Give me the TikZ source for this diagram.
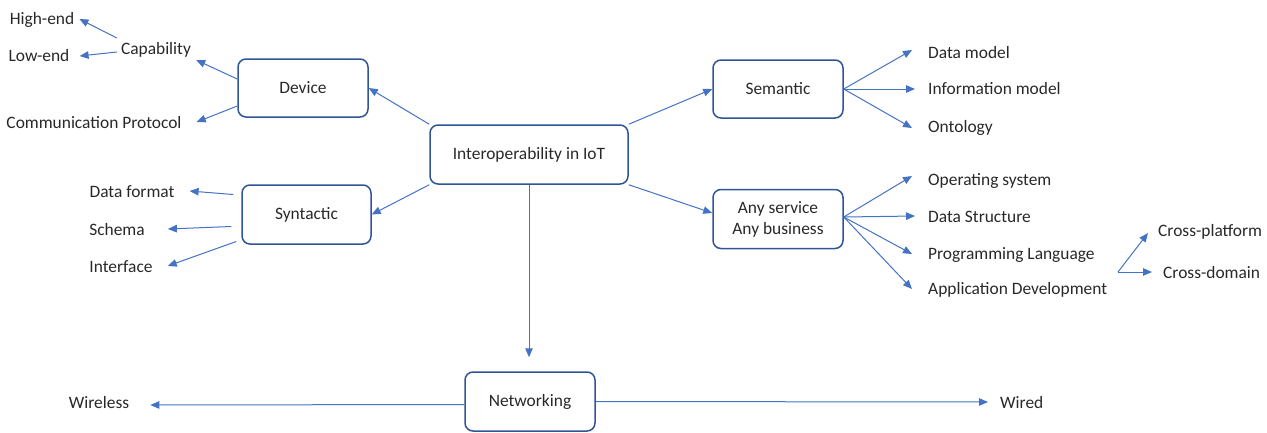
\documentclass[tikz,border=0pt]{standalone}
\usepackage{fontspec}
\setmainfont{Carlito}
\usetikzlibrary{arrows.meta,positioning,calc}

\definecolor{linkblue}{RGB}{68,114,196}
\definecolor{boxblue}{RGB}{47,85,151}
\definecolor{txtgray}{RGB}{40,40,40}

\begin{document}
\begin{tikzpicture}[x=1pt,y=-1pt,
    font=\fontsize{17.4}{21}\selectfont, text=txtgray,
    topic/.style={draw=boxblue, line width=1.5pt, rounded corners=8pt,
        minimum width=130pt, minimum height=58pt, align=center},
    leaf/.style={inner sep=0pt},
    link/.style={draw=linkblue, line width=1pt, -{Triangle[length=9pt,width=7.5pt]}}]
    \useasboundingbox (0,0) rectangle (1267,432);

    % Main boxes
    \node[topic, minimum width=198pt, minimum height=59pt] (interop) at (529,154.5) {Interoperability in IoT};
    \node[topic] (device) at (303,88) {Device};
    \node[topic, minimum width=129pt, minimum height=59pt] (syntactic) at (306.5,214.5) {Syntactic};
    \node[topic] (semantic) at (778,89) {Semantic};
    \node[topic, minimum height=59pt] (anyserv) at (778,219) {Any service\\Any business};
    \node[topic, minimum height=59pt] (networking) at (530,401.5) {Networking};

    % Left leaves
    \node[leaf] (highend) at (42,20) {High-end};
    \node[leaf] (lowend) at (39,56) {Low-end};
    \node[leaf] (capability) at (156,50) {Capability};
    \node[leaf] (commprot) at (94,123) {Communication Protocol};
    \node[leaf] (dataformat) at (132,192) {Data format};
    \node[leaf] (schema) at (117,230) {Schema};
    \node[leaf] (interface) at (121,267) {Interface};

    % Right leaves
    \node[leaf, anchor=west] (datamodel) at (928,53) {Data model};
    \node[leaf, anchor=west] (infomodel) at (928,89) {Information model};
    \node[leaf, anchor=west] (ontology) at (928,128) {Ontology};
    \node[leaf, anchor=west] (opsys) at (928,181) {Operating system};
    \node[leaf, anchor=west] (datastruct) at (928,217) {Data Structure};
    \node[leaf, anchor=west] (proglang) at (928,255) {Programming Language};
    \node[leaf, anchor=west] (appdev) at (928,290) {Application Development};
    \node[leaf, anchor=west] (crossplat) at (1158,232) {Cross-platform};
    \node[leaf, anchor=west] (crossdom) at (1163,273) {Cross-domain};
    \coordinate (fork) at (1118,272);

    % Bottom leaves
    \node[leaf] (wireless) at (99,403) {Wireless};
    \node[leaf, anchor=west] (wired) at (1000,403) {Wired};

    % From the centre
    \draw[link] (interop.north west) -- (device.east);
    \draw[link] (interop.south west) -- (syntactic.east);
    \draw[link] (interop.north east) -- (semantic.west);
    \draw[link] (interop.south east) -- ([yshift=6pt]anyserv.west);
    \draw[link, shorten >=14pt] (interop.south) -- (interop.south |- networking.north);

    % Device
    \draw[link] ([yshift=9pt]device.west) -- ([xshift=5pt,yshift=-10pt]capability.east);
    \draw[link] ([yshift=-18pt]device.west) -- ([xshift=15pt,yshift=1pt]commprot.east);
    \draw[link] ([xshift=-4pt,yshift=12pt]capability.west) -- ([xshift=5pt,yshift=1pt]highend.east);
    \draw[link] ([xshift=-4pt,yshift=-2pt]capability.west) -- ([xshift=10pt]lowend.east);

    % Syntactic
    \draw[link] ([xshift=-8pt,yshift=20pt]syntactic.west) -- ([xshift=15pt,yshift=1pt]dataformat.east);
    \draw[link] ([xshift=-10pt,yshift=-12pt]syntactic.west) -- ([xshift=23pt,yshift=1pt]schema.east);
    \draw[link] ([xshift=-5pt,yshift=-27pt]syntactic.west) -- ([xshift=15pt,yshift=1pt]interface.east);

    % Semantic
    \draw[link] (semantic.east) -- ([xshift=-16pt,yshift=3pt]datamodel.west);
    \draw[link] (semantic.east) -- ([xshift=-13pt]infomodel.west);
    \draw[link] (semantic.east) -- ([xshift=-16pt]ontology.west);

    % Any service
    \draw[link] ([yshift=2pt]anyserv.east) -- ([xshift=-16pt,yshift=5pt]opsys.west);
    \draw[link] ([yshift=2pt]anyserv.east) -- ([xshift=-13pt,yshift=1pt]datastruct.west);
    \draw[link] ([yshift=2pt]anyserv.east) -- ([xshift=-16pt,yshift=1pt]proglang.west);
    \draw[link] ([yshift=2pt]anyserv.east) -- ([xshift=-16pt,yshift=1pt]appdev.west);
    \draw[link] (fork) -- ([xshift=-10pt,yshift=-1pt]crossplat.west);
    \draw[link] (fork) -- ([xshift=-11pt,yshift=1pt]crossdom.west);

    % Networking
    \draw[link] ([yshift=-3pt]networking.west) -- ([xshift=21pt,yshift=-2pt]wireless.east);
    \draw[link] (networking.east) -- ([xshift=-12pt,yshift=1pt]wired.west);
\end{tikzpicture}
\end{document}
